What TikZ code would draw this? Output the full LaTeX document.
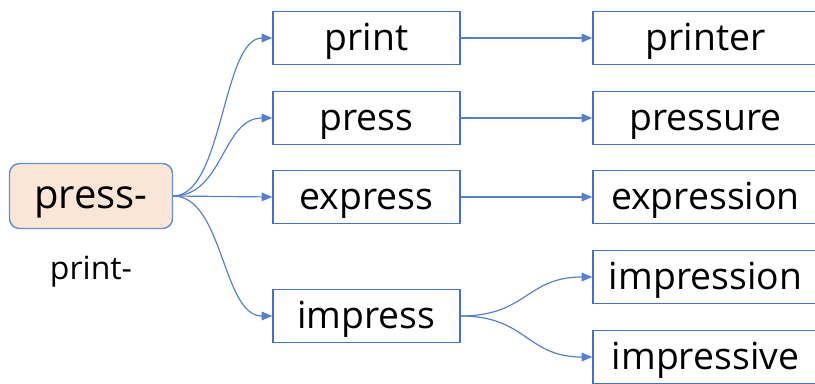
\documentclass[tikz,border=0pt]{standalone}
\usepackage{fontspec}
\setmainfont{Open Sans}
\usepackage{tikz}
\usetikzlibrary{arrows.meta, positioning}
\definecolor{lineblue}{HTML}{4472C4}
\definecolor{rootfill}{HTML}{FBE5D6}
\tikzset{
  word/.style={rectangle, draw=lineblue, line width=1.1pt,
               minimum width=140.25pt, minimum height=39.75pt,
               inner sep=0pt, font=\fontsize{28}{32}\selectfont,
               text height=24pt, text depth=6pt},
  deriv/.style={word, minimum width=168.75pt},
  root/.style={word, rounded corners=7.5pt, fill=rootfill,
               draw=lineblue!80, minimum width=122.25pt,
               minimum height=48.75pt, font=\fontsize{30}{34}\selectfont},
  arr/.style={-{Triangle[length=8pt, width=6.5pt]}, lineblue!90, line width=0.9pt},
}

\begin{document}
\begin{tikzpicture}[x=0.75pt, y=-0.75pt]
  \useasboundingbox (0,0) rectangle (815,383);
  % root and its second form
  \node[root] (pre) at (91,196) {press-};
  \node[font=\fontsize{24}{28}\selectfont] (alt) at (91,272) {print-};
  % words built on the root
  \node[word] (print)   at (366.5,38)  {print};
  \node[word] (press)   at (366.5,118) {press};
  \node[word] (express) at (366.5,197) {express};
  \node[word] (impress) at (366.5,316) {impress};
  % derived words
  \node[deriv] (printer)    at (705.5,38)  {printer};
  \node[deriv] (pressure)   at (705.5,118) {pressure};
  \node[deriv] (expression) at (705.5,197) {expression};
  \node[deriv] (impression) at (705.5,277) {impression};
  \node[deriv] (impressive) at (705.5,357) {impressive};
  % connectors
  \draw[arr] (pre.east) .. controls +(50,0) and +(-50,0) .. (print.west);
  \draw[arr] (pre.east) .. controls +(50,0) and +(-50,0) .. (press.west);
  \draw[arr] (pre.east) -- (express.west);
  \draw[arr] (pre.east) .. controls +(50,0) and +(-50,0) .. (impress.west);
  \draw[arr] (print)   -- (printer);
  \draw[arr] (press)   -- (pressure);
  \draw[arr] (express) -- (expression);
  \draw[arr] (impress.east) .. controls +(66,0) and +(-66,0) .. (impression.west);
  \draw[arr] (impress.east) .. controls +(66,0) and +(-66,0) .. (impressive.west);
\end{tikzpicture}
\end{document}
